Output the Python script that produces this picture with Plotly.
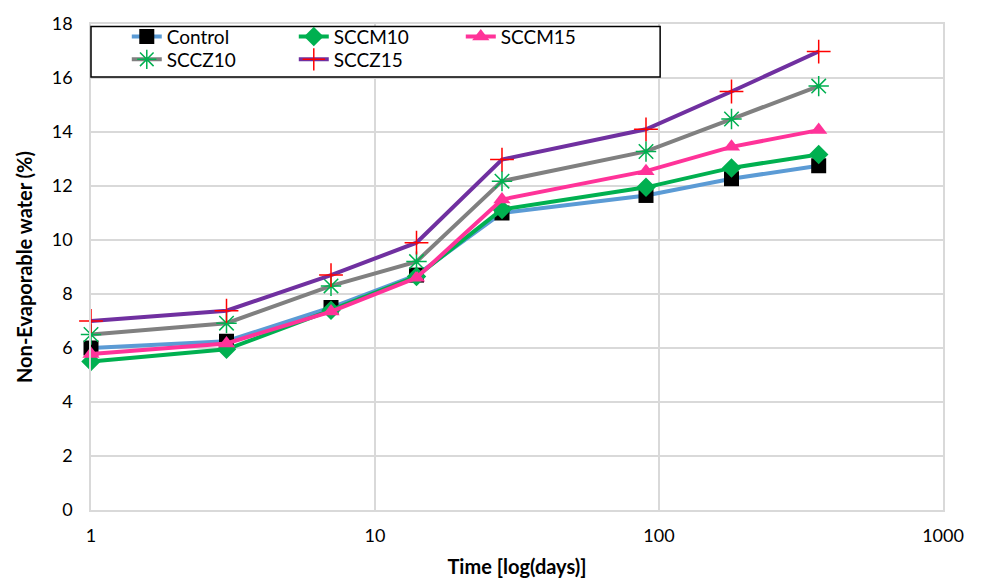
import plotly.graph_objects as go

days = [1, 3, 7, 14, 28, 90, 180, 365]
control = [6.0, 6.25, 7.5, 8.7, 11.0, 11.65, 12.27, 12.75]
sccm10 = [5.5, 5.95, 7.4, 8.65, 11.13, 11.95, 12.67, 13.17]
sccm15 = [5.78, 6.17, 7.35, 8.6, 11.5, 12.55, 13.45, 14.07]
sccz10 = [6.5, 6.92, 8.3, 9.2, 12.18, 13.28, 14.48, 15.7]
sccz15 = [7.0, 7.38, 8.7, 9.9, 12.98, 14.1, 15.5, 16.98]
x_ticks = [1, 10, 100, 1000]
y_ticks = [0, 2, 4, 6, 8, 10, 12, 14, 16, 18]

FONT = "Lato, Carlito, Calibri, sans-serif"

series = [
    ("Control", control, "#5B9BD5", dict(symbol="square", size=15, color="black"), "legend"),
    ("SCCM10", sccm10, "#00B050", dict(symbol="diamond", size=15, color="#00B050"), "legend"),
    ("SCCM15", sccm15, "#FF3399", dict(symbol="triangle-up", size=15, color="#FF3399"), "legend"),
    ("SCCZ10", sccz10, "#808080", dict(symbol="asterisk-open", size=17, color="#00B050",
                                        line=dict(color="#00B050", width=1.5)), "legend2"),
    ("SCCZ15", sccz15, "#7030A0", dict(symbol="cross-thin-open", size=17, color="#FF0000",
                                        line=dict(color="#FF0000", width=1.5)), "legend2"),
]

fig = go.Figure()
for name, vals, col, mk, lg in series:
    fig.add_trace(go.Scatter(x=days, y=vals, name=name, mode="lines+markers",
                             line=dict(color=col, width=4), marker=mk, legend=lg,
                             cliponaxis=False))

fig.add_shape(type="rect", xref="paper", yref="paper", x0=0.0, x1=0.668, y0=0.891, y1=0.995,
              line=dict(color="black", width=1.5), fillcolor="white", layer="above")

leg_common = dict(orientation="h", bgcolor="rgba(0,0,0,0)", borderwidth=0,
                  font=dict(family=FONT, size=19, color="black"),
                  entrywidth=122, entrywidthmode="pixels", xanchor="left", yanchor="middle",
                  itemsizing="trace")

fig.update_layout(
    width=983, height=582,
    margin=dict(l=91, r=40, t=20, b=72),
    plot_bgcolor="white", paper_bgcolor="white",
    font=dict(family=FONT, size=17, color="black"),
    showlegend=True,
    legend=dict(x=0.042, y=0.974, **leg_common),
    legend2=dict(x=0.042, y=0.927, **leg_common),
    xaxis=dict(type="log", range=[0, 3], tickvals=x_ticks, ticktext=[str(v) for v in x_ticks],
               showgrid=True, gridcolor="#D9D9D9", gridwidth=1.5,
               showline=True, linecolor="#D9D9D9", linewidth=1.5, mirror=True,
               zeroline=False, ticks="", ticklabelstandoff=9, automargin=False,
               tickfont=dict(family=FONT, size=18),
               title=dict(text="<b>Time [log(days)]</b>", font=dict(family=FONT, size=20))),
    yaxis=dict(range=[0, 18], tickvals=y_ticks, showgrid=True, gridcolor="#D9D9D9", gridwidth=1.5,
               showline=True, linecolor="#D9D9D9", linewidth=1.5, mirror=True,
               zeroline=False, ticks="", ticklabelstandoff=13,
               tickfont=dict(family=FONT, size=18),
               title=dict(text="<b>Non-Evaporable water (%)</b>", font=dict(family=FONT, size=20), standoff=14)),
)

fig.write_html("out.html")
